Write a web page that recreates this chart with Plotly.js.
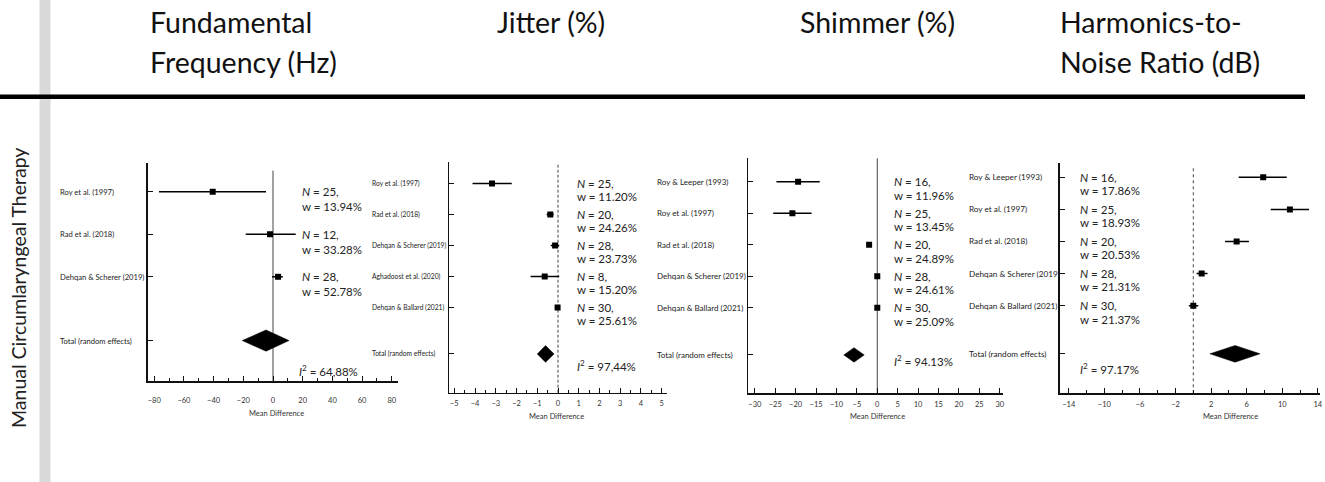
<!DOCTYPE html>
<html>
<head>
<meta charset="utf-8">
<script src="https://cdn.plot.ly/plotly-3.0.1.min.js"></script>
<style>html,body{margin:0;padding:0;background:#fff;}#chart{width:1325px;height:482px;}</style>
</head>
<body>
<div id="chart"></div>
<script>
// ---------------- DATA ----------------
const rowTitle = 'Manual Circumlaryngeal Therapy';
const headerLines = [['Fundamental', 'Frequency (Hz)'], ['Jitter (%)'], ['Shimmer (%)'], ['Harmonics-to-', 'Noise Ratio (dB)']];
const totalLabel = 'Total (random effects)';
const axisTitle = 'Mean Difference';

// Fundamental Frequency (Hz)
const ffStudies = ['Roy et al. (1997)', 'Rad et al. (2018)', 'Dehqan & Scherer (2019)'];
const ffMD = [-40.6, -2.0, 3.4];
const ffLo = [-76.8, -18.4, -0.7];
const ffHi = [-4.7, 15.3, 6.6];
const ffN = [25, 12, 28];
const ffW = ['13.94%', '33.28%', '52.78%'];
const ffTotal = [-4.7, -20.7, 10.8];   // estimate, lower, upper
const ffI2 = '64,88%';

// Jitter (%)
const jitStudies = ['Roy et al. (1997)', 'Rad et al. (2018)', 'Dehqan & Scherer (2019)', 'Aghadoost et al. (2020)', 'Dehqan & Ballard (2021)'];
const jitMD = [-3.18, -0.37, -0.14, -0.64, -0.02];
const jitLo = [-4.12, -0.55, -0.35, -1.32, -0.06];
const jitHi = [-2.23, -0.21, 0.06, 0.06, 0.02];
const jitN = [25, 20, 28, 8, 30];
const jitW = ['11.20%', '24.26%', '23.73%', '15.20%', '25.61%'];
const jitTotal = [-0.6, -1.0, -0.19];
const jitI2 = '97,44%';

// Shimmer (%)
const shiStudies = ['Roy & Leeper (1993)', 'Roy et al. (1997)', 'Rad et al. (2018)', 'Dehqan & Scherer (2019)', 'Dehqan & Ballard (2021)'];
const shiMD = [-19.4, -20.8, -2.0, 0.0, 0.0];
const shiLo = [-24.7, -25.5, -2.3, -0.6, -0.3];
const shiHi = [-14.1, -16.1, -1.7, 0.5, 0.3];
const shiN = [16, 25, 20, 28, 30];
const shiW = ['11.96%', '13.45%', '24.89%', '24.61%', '25.09%'];
const shiTotal = [-5.7, -8.2, -3.2];
const shiI2 = '94.13%';

// Harmonics-to-Noise Ratio (dB)
const hnrStudies = ['Roy & Leeper (1993)', 'Roy et al. (1997)', 'Rad et al. (2018)', 'Dehqan & Scherer (2019)', 'Dehqan & Ballard (2021)'];
const hnrMD = [7.86, 10.86, 4.87, 0.94, 0.0];
const hnrLo = [5.1, 8.7, 3.56, 0.37, -0.5];
const hnrHi = [10.5, 13.0, 6.25, 1.6, 0.56];
const hnrN = [16, 25, 20, 28, 30];
const hnrW = ['17.86%', '18.93%', '20.53%', '21.31%', '21.37%'];
const hnrTotal = [4.7, 1.87, 7.5];
const hnrI2 = '97.17%';

// ---------------- LAYOUT / STYLE ----------------
const W = 1325, H = 482;
const PX = x => x / W;
const PY = y => 1 - y / H;
const FONT = 'Lato, "Open Sans", sans-serif';

const panels = [
  {studies: ffStudies, md: ffMD, lo: ffLo, hi: ffHi, n: ffN, w: ffW, total: ffTotal, i2: ffI2,
   xdom: [147.7, 398], ydom: [163, 381], xrange: [-84.4, 84.2], yrange: [5.45, 0.325], totalPos: 4.5,
   dtick: 20, tick0: -80, minor: 10, labelX: 58, labelSize: 7.6, textX: 300, wShift: -15, i2Pos: [296.7, 370],
   zeroDash: 'solid', zeroTop: 0.965, dH: 0.25, titleX: 150, mdPos: [276.7, 413.3], standoff: 11},
  {studies: jitStudies, md: jitMD, lo: jitLo, hi: jitHi, n: jitN, w: jitW, total: jitTotal, i2: jitI2,
   xdom: [449.3, 666.7], ydom: [161.7, 392.7], xrange: [-5.24, 5.24], yrange: [7.75, 0.30], totalPos: 6.5,
   dtick: 1, tick0: -5, minor: 0.5, labelX: 370, labelSize: 6.7, textX: 575, wShift: -13.4, i2Pos: [575, 365],
   zeroDash: '3px,2px', zeroTop: 0.99, dH: 0.27, titleX: 497, mdPos: [556.7, 416.7], standoff: 3},
  {studies: shiStudies, md: shiMD, lo: shiLo, hi: shiHi, n: shiN, w: shiW, total: shiTotal, i2: shiI2,
   xdom: [748.3, 1003], ydom: [158.3, 393.3], xrange: [-31.6, 30.8], yrange: [7.72, 0.257], totalPos: 6.5,
   dtick: 5, tick0: -30, minor: null, labelX: 655, labelSize: 8.0, textX: 891.7, wShift: -13.4, i2Pos: [891.7, 360],
   zeroDash: 'solid', zeroTop: 1.0, dH: 0.23, titleX: 800, mdPos: [877, 416.7], standoff: 3},
  {studies: hnrStudies, md: hnrMD, lo: hnrLo, hi: hnrHi, n: hnrN, w: hnrW, total: hnrTotal, i2: hnrI2,
   xdom: [1060, 1320], ydom: [163.3, 393.3], xrange: [-14.98, 14.24], yrange: [7.73, 0.564], totalPos: 6.5,
   dtick: 4, tick0: -14, minor: 2, labelX: 966.7, labelSize: 8.2, textX: 1078, wShift: -13.4, i2Pos: [1078, 368],
   zeroDash: 'dot', zeroTop: 0.99, dH: 0.26, titleX: 1060, mdPos: [1230, 416], standoff: 3}
];

const traces = [];
const annotations = [];
const shapes = [];
const layout = {
  width: W, height: H,
  margin: {l: 0, r: 0, t: 0, b: 0},
  paper_bgcolor: '#ffffff', plot_bgcolor: 'rgba(0,0,0,0)',
  showlegend: false,
  font: {family: FONT, color: '#222'},
  annotations: annotations, shapes: shapes
};

// gray vertical band + heavy rule
shapes.push({type: 'rect', xref: 'paper', yref: 'paper', x0: PX(39.5), x1: PX(50.5), y0: 0, y1: 1,
  fillcolor: '#d9d9d9', line: {width: 0}, layer: 'below'});
shapes.push({type: 'line', xref: 'paper', yref: 'paper', x0: 0, x1: PX(1305), y0: PY(96.7), y1: PY(96.7),
  line: {color: '#000', width: 4.5}});

// row title
annotations.push({xref: 'paper', yref: 'paper', x: PX(18), y: PY(288), text: rowTitle, textangle: -90,
  showarrow: false, xanchor: 'center', yanchor: 'middle', font: {family: FONT, size: 19.5, color: '#222'}});

panels.forEach((p, k) => {
  const sfx = k === 0 ? '' : String(k + 1);
  const xa = 'x' + sfx, ya = 'y' + sfx;
  const rows = p.studies.map((s, i) => i + 1);

  // headers
  headerLines[k].forEach((t, j) => {
    annotations.push({xref: 'paper', yref: 'paper', x: PX(p.titleX - 2), y: PY(j === 0 ? 22 : 62), text: t,
      showarrow: false, xanchor: 'left', yanchor: 'middle', font: {family: FONT, size: 28.5, color: '#111'}});
  });

  // axes
  const xaxis = {
    domain: [PX(p.xdom[0]), PX(p.xdom[1])], range: p.xrange, anchor: ya,
    showgrid: false, zeroline: false, showline: true, linecolor: '#111', linewidth: 1.6,
    ticks: 'inside', ticklen: 5, tickwidth: 1, tickcolor: '#111',
    tickmode: 'linear', tick0: p.tick0, dtick: p.dtick,
    tickfont: {family: FONT, size: 7.5, color: '#333'}, ticklabelstandoff: p.standoff,
    fixedrange: true
  };
  if (p.minor) {
    xaxis.minor = {ticks: 'inside', ticklen: 3, tickwidth: 1, tickcolor: '#111', dtick: p.minor, tick0: p.tick0, showgrid: false};
  }
  const yaxis = {
    domain: [PY(p.ydom[1]), PY(p.ydom[0])], range: p.yrange, anchor: xa,
    showgrid: false, zeroline: false, showline: true, linecolor: '#111', linewidth: 1.6,
    ticks: 'inside', ticklen: 5, tickwidth: 1, tickcolor: '#111',
    tickmode: 'array', tickvals: rows.concat([p.totalPos]),
    showticklabels: false, fixedrange: true
  };
  layout['xaxis' + sfx] = xaxis;
  layout['yaxis' + sfx] = yaxis;

  // zero reference line
  shapes.push({type: 'line', xref: xa, yref: ya + ' domain', x0: 0, x1: 0, y0: 0, y1: p.zeroTop,
    line: {color: '#444', width: 1, dash: p.zeroDash}, layer: 'below'});

  // study estimates with CI
  traces.push({
    type: 'scatter', mode: 'markers', xaxis: xa, yaxis: ya,
    x: p.md, y: rows,
    marker: {symbol: 'square', size: 6, color: '#000'},
    error_x: {type: 'data', symmetric: false,
      array: p.hi.map((h, i) => h - p.md[i]), arrayminus: p.lo.map((l, i) => p.md[i] - l),
      thickness: 1.5, width: 0, color: '#000'},
    hoverinfo: 'skip'
  });

  // pooled diamond
  const [te, tl, th] = p.total;
  traces.push({
    type: 'scatter', mode: 'lines', xaxis: xa, yaxis: ya, fill: 'toself', fillcolor: '#000',
    x: [tl, te, th, te, tl], y: [p.totalPos, p.totalPos - p.dH, p.totalPos, p.totalPos + p.dH, p.totalPos],
    line: {color: '#000', width: 0.5}, hoverinfo: 'skip'
  });

  // study labels
  p.studies.concat([totalLabel]).forEach((s, i) => {
    annotations.push({xref: 'paper', yref: ya, x: PX(p.labelX), y: i < p.studies.length ? i + 1 : p.totalPos,
      text: s, showarrow: false, xanchor: 'left', yanchor: 'middle',
      font: {family: FONT, size: p.labelSize, color: '#222'}});
  });

  // N / weight texts
  p.n.forEach((nv, i) => {
    annotations.push({xref: 'paper', yref: ya, x: PX(p.textX), y: i + 1, text: '<i>N</i> = ' + nv + ',',
      showarrow: false, xanchor: 'left', yanchor: 'middle', font: {family: FONT, size: 11.5, color: '#222'}});
    annotations.push({xref: 'paper', yref: ya, x: PX(p.textX), y: i + 1, yshift: p.wShift, text: 'w = ' + p.w[i],
      showarrow: false, xanchor: 'left', yanchor: 'middle', font: {family: FONT, size: 11.5, color: '#222'}});
  });

  // I^2
  annotations.push({xref: 'paper', yref: 'paper', x: PX(p.i2Pos[0]), y: PY(p.i2Pos[1]),
    text: '<i>I</i><sup>2</sup> = ' + p.i2, showarrow: false, xanchor: 'left', yanchor: 'middle',
    font: {family: FONT, size: 11.5, color: '#222'}});

  // axis title
  annotations.push({xref: 'paper', yref: 'paper', x: PX(p.mdPos[0]), y: PY(p.mdPos[1]), text: axisTitle,
    showarrow: false, xanchor: 'center', yanchor: 'middle', font: {family: FONT, size: 7.5, color: '#333'}});
});

Plotly.newPlot('chart', traces, layout, {staticPlot: true, displayModeBar: false});
</script>
</body>
</html>
